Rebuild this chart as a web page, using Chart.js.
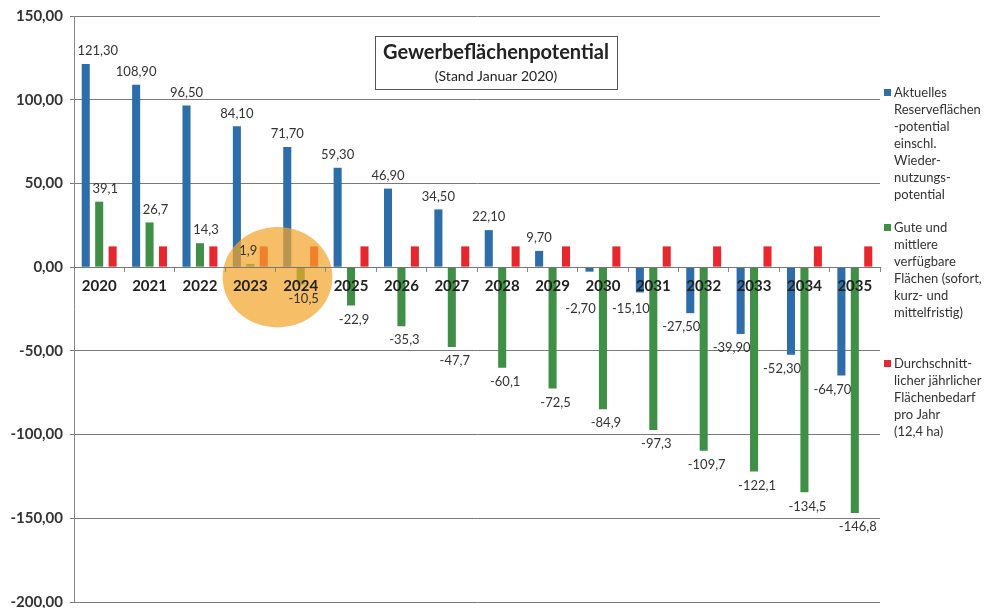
<!DOCTYPE html>
<html>
<head>
<meta charset="utf-8">
<script src="https://cdn.jsdelivr.net/npm/chart.js@4.4.1/dist/chart.umd.min.js"></script>
<style>
  html, body { margin: 0; padding: 0; background: #fff; }
  #wrap { width: 984px; height: 608px; }
</style>
</head>
<body>
<div id="wrap"><canvas id="chart" width="984" height="608"></canvas></div>
<script>
const years = ['2020', '2021', '2022', '2023', '2024', '2025', '2026', '2027',
               '2028', '2029', '2030', '2031', '2032', '2033', '2034', '2035'];
const reserve = [121.3, 108.9, 96.5, 84.1, 71.7, 59.3, 46.9, 34.5,
                 22.1, 9.7, -2.7, -15.1, -27.5, -39.9, -52.3, -64.7];
const available = [39.1, 26.7, 14.3, 1.9, -10.5, -22.9, -35.3, -47.7,
                   -60.1, -72.5, -84.9, -97.3, -109.7, -122.1, -134.5, -146.8];
const demand = [12.4, 12.4, 12.4, 12.4, 12.4, 12.4, 12.4, 12.4,
                12.4, 12.4, 12.4, 12.4, 12.4, 12.4, 12.4, 12.4];
const yTicks = [150, 100, 50, 0, -50, -100, -150, -200];

const titleText = 'Gewerbeflächenpotential';
const subtitleText = '(Stand Januar 2020)';
const legendReserve = ['Aktuelles', 'Reserveflächen', '-potential', 'einschl.', 'Wieder-', 'nutzungs-', 'potential'];
const legendAvailable = ['Gute und', 'mittlere', 'verfügbare', 'Flächen (sofort,', 'kurz- und', 'mittelfristig)'];
const legendDemand = ['Durchschnitt-', 'licher jährlicher', 'Flächenbedarf', 'pro Jahr', '(12,4 ha)'];

const BLUE = '#2c6daa';
const GREEN = '#3f8f46';
const RED = '#e8262e';
const FONT = 'Lato, "Open Sans", sans-serif';

function comma(v, d) {
    return v.toFixed(d).replace('.', ',');
}

// the orange marker around 2023/2024, drawn on top of the bars
const highlight = {
    id: 'highlight',
    afterDatasetsDraw(chart) {
        const { ctx, scales: { x, y } } = chart;
        const cx = (x.getPixelForValue(3) + x.getPixelForValue(4)) / 2 + 2;
        const cy = y.getPixelForValue(-6);
        const rx = (x.getPixelForValue(1) - x.getPixelForValue(0)) * 1.09;
        const ry = Math.abs(y.getPixelForValue(30) - y.getPixelForValue(0));
        ctx.save();
        ctx.fillStyle = 'rgba(243, 165, 45, 0.72)';
        ctx.beginPath();
        ctx.ellipse(cx, cy, rx, ry, 0, 0, Math.PI * 2);
        ctx.fill();
        ctx.restore();
    }
};

// value labels, title box and side legend
const extras = {
    id: 'extras',
    afterDraw(chart) {
        const { ctx, chartArea, scales: { y } } = chart;
        const zero = y.getPixelForValue(0);
        ctx.save();
        ctx.font = '13px ' + FONT;
        ctx.fillStyle = '#333';
        ctx.textAlign = 'center';
        ctx.textBaseline = 'middle';

        chart.getDatasetMeta(0).data.forEach((bar, i) => {
            const v = reserve[i];
            if (v >= 0) {
                const lx = i === 0 ? bar.x + 12 : bar.x;
                ctx.fillText(comma(v, 2), lx, bar.y - 13);
            } else {
                ctx.fillText(comma(v, 2), bar.x - 9, Math.max(bar.y + 14, zero + 42));
            }
        });
        chart.getDatasetMeta(1).data.forEach((bar, i) => {
            const v = available[i];
            if (v >= 0) {
                ctx.fillText(comma(v, 1), bar.x + (i === 3 ? -2 : 6), bar.y - 13);
            } else {
                ctx.fillText(comma(v, 1), bar.x + 3, bar.y + 14);
            }
        });

        // title box
        const bx = chartArea.left + 301, bw = 242, by = 36, bh = 53;
        ctx.fillStyle = '#fff';
        ctx.fillRect(bx, by, bw, bh);
        ctx.strokeStyle = '#555';
        ctx.lineWidth = 1;
        ctx.strokeRect(bx + 0.5, by + 0.5, bw, bh);
        ctx.fillStyle = '#222';
        ctx.font = 'bold 20px ' + FONT;
        ctx.fillText(titleText, bx + bw / 2, by + 17);
        ctx.font = '14px ' + FONT;
        ctx.fillText(subtitleText, bx + bw / 2, by + 40);

        // legend
        const entries = [
            [BLUE, legendReserve, 93],
            [GREEN, legendAvailable, 228],
            [RED, legendDemand, 364]
        ];
        ctx.textAlign = 'left';
        ctx.font = '13px ' + FONT;
        entries.forEach(([color, lines, top]) => {
            ctx.fillStyle = color;
            ctx.fillRect(884, top - 4, 7, 7);
            ctx.fillStyle = '#333';
            lines.forEach((t, k) => ctx.fillText(t, 894, top + k * 17));
        });
        ctx.restore();
    }
};

new Chart(document.getElementById('chart'), {
    type: 'bar',
    data: {
        labels: years,
        datasets: [
            { label: legendReserve.join(' '), data: reserve, backgroundColor: BLUE },
            { label: legendAvailable.join(' '), data: available, backgroundColor: GREEN },
            { label: legendDemand.join(' '), data: demand, backgroundColor: RED }
        ]
    },
    options: {
        responsive: false,
        animation: false,
        devicePixelRatio: 1,
        categoryPercentage: 0.8,
        barPercentage: 0.6,
        layout: { padding: { left: 0, top: 16, right: 104, bottom: 6 } },
        plugins: {
            legend: { display: false },
            tooltip: { enabled: false }
        },
        scales: {
            x: {
                position: { y: 0 },
                grid: { display: true, drawOnChartArea: false, drawTicks: true, tickLength: 4, offset: true, color: '#888', z: 1 },
                border: { display: true, color: '#777', z: 1 },
                ticks: {
                    z: 1,
                    padding: 6,
                    color: '#222',
                    font: { family: FONT, size: 15, weight: 'bold' },
                    maxRotation: 0,
                    autoSkip: false
                }
            },
            y: {
                min: -200,
                max: 150,
                afterFit(scale) {
                    scale.width = 74;
                    scale.paddingTop = 0;
                    scale.paddingBottom = 0;
                },
                afterBuildTicks(scale) { scale.ticks = yTicks.map(v => ({ value: v })); },
                grid: { color: '#7a7a7a', lineWidth: 1, drawTicks: true, tickLength: 4 },
                border: { display: true, color: '#888' },
                ticks: {
                    padding: 7,
                    color: '#333',
                    font: { family: FONT, size: 15, weight: 'bold' },
                    callback: v => comma(v, 2)
                }
            }
        }
    },
    plugins: [highlight, extras]
});
</script>
</body>
</html>
